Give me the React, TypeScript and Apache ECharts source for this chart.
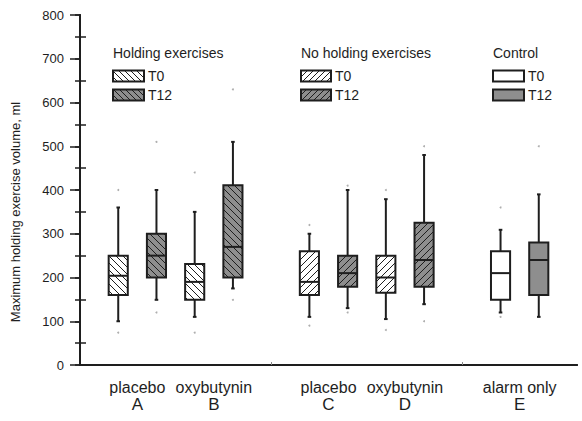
import React, { useEffect, useRef } from "react";
import * as echarts from "echarts";

// ---- data ----
const groupLabels = ["placebo", "oxybutynin", "placebo", "oxybutynin", "alarm only"];
const groupLetters = ["A", "B", "C", "D", "E"];
const labelPositions = [1.5, 3.5, 6.5, 8.5, 11.5];

const boxPositions = [1, 2, 3, 4, 6, 7, 8, 9, 11, 12];
const boxTimes = ["T0", "T12", "T0", "T12", "T0", "T12", "T0", "T12", "T0", "T12"];
const boxHatch = ["back", "back", "back", "back", "fwd", "fwd", "fwd", "fwd", "none", "none"];
const whiskerLow = [100, 149, 110, 175, 110, 130, 105, 139, 120, 110];
const quartile1 = [160, 200, 149, 200, 160, 179, 165, 179, 149, 160];
const medians = [204, 250, 190, 270, 190, 210, 200, 240, 210, 240];
const quartile3 = [250, 300, 231, 411, 260, 250, 250, 325, 260, 280];
const whiskerHigh = [360, 400, 350, 510, 300, 400, 379, 480, 309, 390];
const outlierPositions = [1, 1, 2, 2, 3, 3, 4, 4, 6, 6, 7, 7, 8, 8, 9, 9, 11, 11, 12];
const outlierValues = [400, 74, 510, 120, 440, 74, 630, 149, 320, 90, 410, 120, 400, 80, 500, 100, 360, 110, 500];

const yMinorTicks = [50, 150, 250, 350, 450, 550, 650, 750];
const xGroupTicks = [5, 10];

const legendGroups = ["Holding exercises", "No holding exercises", "Control"];
const legendHatch = ["back", "fwd", "none"];
const legendItems = ["T0", "T12"];
const yTitle = "Maximum holding exercise volume, ml";

const FONT = "'Liberation Sans', Arial, Helvetica, sans-serif";
const INK = "#1e1e1e";
const GRAY = "#8e8e8e";

function hatchSegments(x0: number, y0: number, x1: number, y1: number, s: number, dir: string) {
  const segs: number[][] = [];
  if (dir === "back") {
    const cMin = y0 - x1;
    const cMax = y1 - x0;
    for (let c = Math.ceil(cMin / s) * s; c <= cMax; c += s) {
      const xa = Math.max(x0, y0 - c);
      const xb = Math.min(x1, y1 - c);
      if (xb - xa > 0.5) segs.push([xa, xa + c, xb, xb + c]);
    }
  } else if (dir === "fwd") {
    const cMin = x0 + y0;
    const cMax = x1 + y1;
    for (let c = Math.ceil(cMin / s) * s; c <= cMax; c += s) {
      const xa = Math.max(x0, c - y1);
      const xb = Math.min(x1, c - y0);
      if (xb - xa > 0.5) segs.push([xa, c - xa, xb, c - xb]);
    }
  }
  return segs;
}

function hatchLines(x0: number, y0: number, x1: number, y1: number, dir: string) {
  return hatchSegments(x0, y0, x1, y1, 7, dir).map((sg) => ({
    type: "line",
    shape: { x1: sg[0], y1: sg[1], x2: sg[2], y2: sg[3] },
    style: { stroke: INK, lineWidth: 1 },
    silent: true,
  }));
}

export default function App() {
  const ref = useRef<HTMLDivElement>(null);

  useEffect(() => {
    if (!ref.current) return;
    const chart = echarts.init(ref.current, null, { renderer: "svg" });

    const boxData = boxPositions.map((p, i) => [
      p,
      whiskerLow[i],
      quartile1[i],
      medians[i],
      quartile3[i],
      whiskerHigh[i],
      i,
    ]);
    const outlierData = outlierPositions.map((p, i) => [p, outlierValues[i]]);

    const renderBox = (params: any, api: any) => {
      const pos = api.value(0);
      const idx = api.value(6);
      const low = api.coord([pos, api.value(1)]);
      const q1 = api.coord([pos, api.value(2)]);
      const med = api.coord([pos, api.value(3)]);
      const q3 = api.coord([pos, api.value(4)]);
      const high = api.coord([pos, api.value(5)]);
      const w = api.size([0.5, 0])[0];
      const cx = low[0];
      const x0 = cx - w / 2;
      const x1 = cx + w / 2;
      const fill = boxTimes[idx] === "T12" ? GRAY : "#ffffff";
      const stroke = { stroke: INK, lineWidth: 2 };
      const children: any[] = [
        { type: "line", shape: { x1: cx, y1: q3[1], x2: cx, y2: high[1] }, style: stroke },
        { type: "line", shape: { x1: cx, y1: q1[1], x2: cx, y2: low[1] }, style: stroke },
        { type: "line", shape: { x1: cx - 1.8, y1: high[1], x2: cx + 1.8, y2: high[1] }, style: stroke },
        { type: "line", shape: { x1: cx - 1.8, y1: low[1], x2: cx + 1.8, y2: low[1] }, style: stroke },
        { type: "rect", shape: { x: x0, y: q3[1], width: w, height: q1[1] - q3[1] }, style: { fill, stroke: "none" } },
        ...hatchLines(x0, q3[1], x1, q1[1], boxHatch[idx]),
        { type: "rect", shape: { x: x0, y: q3[1], width: w, height: q1[1] - q3[1] }, style: { fill: "none", stroke: INK, lineWidth: 2 } },
        { type: "line", shape: { x1: x0, y1: med[1], x2: x1, y2: med[1] }, style: stroke },
      ];
      return { type: "group", children };
    };

    const legendX = [113, 301, 493];
    const legendW = [31, 30, 31];
    const graphics: any[] = [];
    legendGroups.forEach((g, gi) => {
      const lx = legendX[gi];
      graphics.push({
        type: "text",
        x: lx,
        y: 53,
        style: { text: g, font: `14px ${FONT}`, fill: INK, align: "left", verticalAlign: "middle", textAlign: "left", textVerticalAlign: "middle" },
      });
      legendItems.forEach((t, ti) => {
        const cy = ti === 0 ? 76 : 95;
        const x0 = lx;
        const y0 = cy - 5.5;
        const x1 = lx + legendW[gi];
        const y1 = cy + 5.5;
        const fill = t === "T12" ? GRAY : "#ffffff";
        graphics.push({ type: "rect", shape: { x: x0, y: y0, width: x1 - x0, height: y1 - y0 }, style: { fill, stroke: "none" } });
        hatchSegments(x0, y0, x1, y1, 6, legendHatch[gi]).forEach((sg) =>
          graphics.push({ type: "line", shape: { x1: sg[0], y1: sg[1], x2: sg[2], y2: sg[3] }, style: { stroke: INK, lineWidth: 1 } })
        );
        graphics.push({ type: "rect", shape: { x: x0, y: y0, width: x1 - x0, height: y1 - y0 }, style: { fill: "none", stroke: INK, lineWidth: 2 } });
        graphics.push({
          type: "text",
          x: x1 + 4,
          y: cy,
          style: { text: t, font: `14px ${FONT}`, fill: INK, align: "left", verticalAlign: "middle", textAlign: "left", textVerticalAlign: "middle" },
        });
      });
    });
    graphics.push({
      type: "text",
      x: 15,
      y: 212,
      rotation: Math.PI / 2,
      style: { text: yTitle, font: `13px ${FONT}`, fill: INK, align: "center", verticalAlign: "middle", textAlign: "center", textVerticalAlign: "middle" },
    });

    const axisLine = { show: true, lineStyle: { color: INK, width: 2 } };

    chart.setOption({
      animation: false,
      textStyle: { fontFamily: FONT },
      grid: { left: 80, right: 5, top: 15, bottom: 56, containLabel: false },
      xAxis: [
        {
          type: "value",
          position: "bottom",
          min: 0,
          max: 13,
          interval: 0.5,
          axisLine,
          axisTick: { show: false },
          splitLine: { show: false },
          axisLabel: {
            margin: 14,
            color: INK,
            formatter: (v: number) => {
              const k = labelPositions.findIndex((p) => Math.abs(p - v) < 1e-6);
              return k >= 0 ? `{a|${groupLabels[k]}}\n{b|${groupLetters[k]}}` : "";
            },
            rich: {
              a: { fontSize: 16, lineHeight: 17, fontFamily: FONT, color: INK },
              b: { fontSize: 17, lineHeight: 17, fontFamily: FONT, color: INK },
            },
          },
        },
        {
          type: "value",
          position: "bottom",
          min: 0,
          max: 13,
          axisLine: { show: false },
          axisTick: { show: true, inside: true, length: 3, customValues: xGroupTicks, lineStyle: { color: "#888", width: 1 } },
          axisLabel: { show: false },
          splitLine: { show: false },
        },
        {
          type: "value",
          position: "top",
          min: 0,
          max: 13,
          axisLine,
          axisTick: { show: false },
          axisLabel: { show: false },
          splitLine: { show: false },
        },
      ],
      yAxis: [
        {
          type: "value",
          position: "left",
          min: 0,
          max: 800,
          interval: 100,
          axisLine,
          axisTick: { show: true, length: 10, lineStyle: { color: INK, width: 1.5 } },
          axisLabel: { margin: 16, fontSize: 13, color: INK, fontFamily: FONT },
          splitLine: { show: false },
        },
        {
          type: "value",
          position: "left",
          min: 0,
          max: 800,
          interval: 50,
          axisLine: { show: false },
          axisTick: { show: true, inside: true, length: 6, customValues: yMinorTicks, lineStyle: { color: INK, width: 1.5 } },
          axisLabel: { show: false },
          splitLine: { show: false },
        },
        {
          type: "value",
          position: "right",
          min: 0,
          max: 800,
          interval: 50,
          axisLine,
          axisTick: { show: true, inside: true, length: 5, lineStyle: { color: INK, width: 1.5 } },
          axisLabel: { show: false },
          splitLine: { show: false },
        },
      ],
      series: [
        {
          type: "custom",
          xAxisIndex: 0,
          yAxisIndex: 0,
          renderItem: renderBox,
          encode: { x: 0, y: [1, 2, 3, 4, 5] },
          data: boxData,
          clip: false,
          silent: true,
        },
        {
          type: "scatter",
          xAxisIndex: 0,
          yAxisIndex: 0,
          symbol: "circle",
          symbolSize: 2,
          itemStyle: { color: "#9a9a9a" },
          data: outlierData,
          silent: true,
        },
      ],
      graphic: graphics,
    });

    return () => chart.dispose();
  }, []);

  return (
    <div
      ref={ref}
      style={{ position: "fixed", left: 0, top: 0, width: 582, height: 421, background: "#fff" }}
    />
  );
}
